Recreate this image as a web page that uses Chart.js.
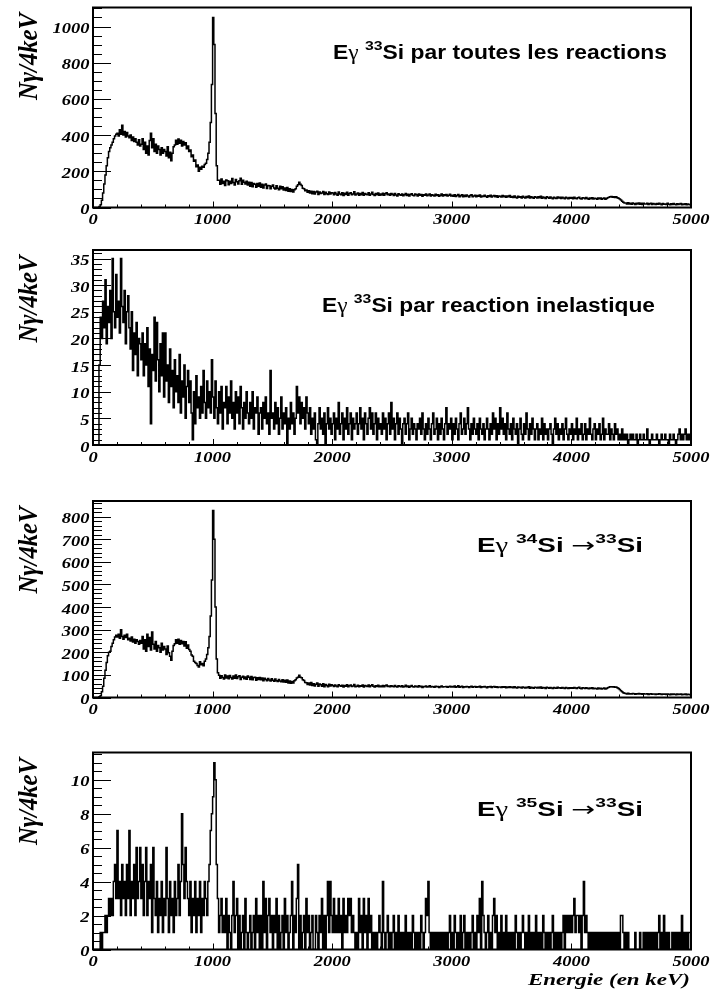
<!DOCTYPE html>
<html><head><meta charset="utf-8">
<script src="https://cdn.jsdelivr.net/npm/chart.js@4.4.1/dist/chart.umd.min.js"></script>
<style>
html,body{margin:0;padding:0;background:#fff;width:711px;height:992px;overflow:hidden}
canvas{position:absolute;left:0}
</style>
</head><body>
<canvas id="c1" width="711" height="245" style="top:0px"></canvas>
<canvas id="c2" width="711" height="250" style="top:245px"></canvas>
<canvas id="c3" width="711" height="250" style="top:495px"></canvas>
<canvas id="c4" width="711" height="247" style="top:745px"></canvas>
<script>
// ---- data : counts per 10 keV bin, 0..5000 keV ----
const BIN_KEV = 10;
const xTickLabels = [0, 1000, 2000, 3000, 4000, 5000];
const yTicksToutes = [0, 200, 400, 600, 800, 1000];
const yTicksInel = [0, 5, 10, 15, 20, 25, 30, 35];
const yTicksSi34 = [0, 100, 200, 300, 400, 500, 600, 700, 800];
const yTicksSi35 = [0, 2, 4, 6, 8, 10];

const toutesReactions = [
0,0,0,0,0,5,15,40,80,130,180,230,275,310,330,345,360,380,395,405,
410,395,430,405,455,400,420,390,415,395,
385,400,370,390,365,380,360,345,375,340,
350,380,320,360,300,340,290,370,410,330,
380,310,350,300,340,320,290,330,300,320,
310,285,335,275,305,258,300,335,345,372,
350,378,355,372,340,365,345,358,325,340,
310,318,280,290,255,262,225,235,200,222,
212,228,222,238,245,265,300,360,470,680,
1050,900,520,230,150,
150,128,158,132,145,122,152,148,126,145,132,160,138,125,155,142,130,148,162,128,150,140,130,145,124,
140,118,138,115,132,128,112,132,118,135,112,128,108,125,130,105,122,120,104,118,124,108,102,120,106,98,118,104,114,96,
108,94,110,90,104,88,100,86,98,104,
118,126,140,128,122,106,104,92,96,84,
92,80,90,76,88,74,85,90,72,86,78,80,88,72,84,76,72,86,74,82,
80,70,83,74,68,85,75,71,82,66,79,72,84,68,77,81,70,75,87,69,74,80,68,77,71,83,67,78,73,70,81,68,75,84,72,66,77,70,80,68,75,69,79,67,76,82,70,74,68,78,
73,66,77,69,64,76,71,67,75,65,70,78,66,73,63,72,76,68,65,74,70,64,75,68,72,62,71,67,74,65,69,75,64,71,67,63,73,66,71,62,68,74,64,70,66,72,63,68,73,64,
68,62,71,61,66,72,60,65,70,59,67,61,69,63,58,66,70,60,64,67,59,66,62,69,58,64,61,67,62,57,65,61,68,58,63,66,59,65,57,64,62,58,66,60,64,56,63,59,66,57,
61,55,64,57,53,62,56,60,52,62,57,53,61,55,63,52,59,55,51,60,57,52,60,54,62,51,58,54,50,59,55,51,58,53,49,57,53,50,58,52,56,50,57,52,48,56,52,49,55,51,
55,49,56,51,48,54,57,50,47,54,52,48,55,50,46,53,49,54,47,51,50,46,53,48,52,45,50,53,46,50,
54,57,59,61,56,60,55,59,54,51,47,41,35,29,25,
25,20,26,19,23,18,25,21,17,24,20,25,18,23,17,24,20,19,23,16,21,24,17,22,19,16,22,18,23,19,15,22,18,20,16,23,18,15,21,17,22,18,15,21,17,19,22,15,19,17,21,15,19,17,15
];

const reactionInelastique = [
0,0,0,0,0,15,24,20,27,22,
31,19,26,23,29,20,35,25,22,32,
24,27,21,35,26,23,29,19,25,28,
22,18,25,14,21,17,23,13,20,19,
16,21,13,19,15,22,11,18,4,17,
14,24,12,23,16,10,19,13,21,9,
21,12,15,8,18,11,14,7,16,10,
13,8,17,6,12,9,15,5,11,14,
8,12,6,1,10,4,13,7,9,5,
11,6,14,8,5,12,7,10,6,16,
9,5,12,7,4,10,6,11,3,8,
7,11,4,9,6,12,5,8,3,10,
6,9,4,11,7,3,8,5,10,6,
4,8,5,10,3,7,6,9,2,6,
7,3,8,5,9,4,6,2,14,5,
6,3,8,4,7,2,5,9,3,6,
4,7,0,5,3,8,4,6,2,5,
11,6,9,4,8,5,7,3,9,6,
4,7,2,5,3,6,1,0,4,7,
3,5,2,6,0,4,7,3,5,2,
4,6,1,5,3,8,2,4,6,1,
5,3,7,2,4,6,1,5,3,4,
6,2,4,7,3,5,1,6,4,2,
5,7,3,6,2,4,6,1,5,3,
4,2,6,3,5,1,4,6,2,8,
3,5,1,4,6,2,5,3,0,4,
5,2,4,6,1,3,5,2,4,3,
1,4,3,5,2,6,3,1,4,2,
5,3,1,4,6,2,3,5,1,4,
2,5,3,1,4,7,2,4,3,5,
1,4,2,5,3,1,4,6,2,3,
5,2,4,7,3,1,4,2,5,3,
2,4,1,5,3,2,4,1,3,5,
3,1,4,2,6,3,5,1,4,2,
7,3,5,2,4,1,6,3,2,4,
1,5,3,2,4,0,3,5,2,1,
4,2,6,3,1,4,2,5,3,1,
3,4,1,3,2,5,1,4,2,3,
1,3,4,2,0,3,5,2,4,1,
3,2,4,1,3,5,2,1,3,2,
4,1,3,2,5,1,3,2,4,1,
2,4,1,3,2,5,2,1,3,4,
1,3,2,4,1,2,5,1,3,2,
2,4,1,3,2,1,4,2,3,1,
2,1,3,1,2,1,2,0,1,2,
1,2,1,1,2,0,1,2,1,1,
2,1,1,3,1,0,1,2,1,1,
1,2,1,0,1,2,1,1,2,1,
1,0,2,1,1,2,1,0,1,2,
3,1,2,1,2,3,1,2,1,2
];

const si34VersSi33 = [
0,0,0,0,0,3,8,25,50,85,120,155,185,200,205,225,240,255,268,275,
268,280,262,300,270,258,275,265,280,255,
262,250,268,245,258,240,255,248,235,252,
240,270,215,255,205,280,225,265,210,290,
235,215,248,205,230,220,200,240,210,225,
215,190,228,198,182,165,205,230,238,255,
240,258,236,252,238,248,228,246,218,232,
212,205,188,182,160,155,150,142,135,158,
145,150,140,160,170,190,220,270,360,520,
827,700,400,170,110,
98,85,96,88,82,99,86,95,83,97,89,82,95,85,100,84,92,96,80,90,94,83,91,81,95,
90,80,93,78,88,90,76,87,80,89,78,86,74,85,80,74,84,77,73,83,76,72,82,74,71,80,73,70,79,69,
76,67,77,64,73,63,71,64,74,79,
86,90,98,90,87,78,75,66,65,58,
64,55,66,53,61,51,59,64,50,60,56,50,61,48,57,53,48,59,51,56,
53,49,55,51,47,56,52,50,54,46,53,50,56,48,52,55,49,51,58,48,50,54,47,52,50,55,46,53,51,49,55,47,52,56,50,46,52,49,54,47,51,48,53,47,52,55,49,51,48,52,
50,47,53,49,46,52,50,48,52,46,49,54,47,51,45,50,53,48,46,51,49,46,52,48,50,44,49,47,51,46,48,52,46,49,47,45,50,47,49,44,48,51,46,48,47,49,45,48,50,46,
49,46,51,45,48,52,45,47,50,44,48,46,49,47,44,48,50,45,47,49,45,48,46,50,44,47,46,49,46,43,48,46,49,44,47,49,45,47,44,46,46,44,48,45,47,43,46,44,48,44,
46,43,47,44,42,46,44,45,42,46,44,42,45,43,47,41,45,43,41,45,44,42,45,42,46,41,44,43,40,45,43,41,44,42,40,44,42,41,45,42,43,41,44,42,40,44,42,40,43,41,
43,41,44,42,40,43,45,41,39,43,42,40,43,41,39,42,40,43,39,41,40,38,42,39,41,38,40,42,38,40,
43,45,47,48,46,47,45,46,43,40,35,30,25,21,19,
18,16,19,15,17,16,18,17,14,17,16,18,15,17,14,17,16,15,17,13,16,17,14,16,15,13,16,14,17,15,13,16,14,15,13,16,14,12,15,13,16,14,12,15,13,14,16,12,14,13,15,12,14,13,12
];

const si35VersSi33 = [
0,0,0,0,0, 0,1,0,1,1, 2,1,2,3,2, 3,2,4,5,3, 7,3,4,2,5, 3,4,2,5,3, 7,2,4,3,5, 2,6,3,4,6, 3,5,2,4,6, 2,4,3,5,1,
6,3,2,4,1, 3,2,4,1,3, 2,6,3,1,4, 2,3,1,4,2, 3,5,2,4,8, 5,3,6,4,3, 2,4,1,3,2, 4,1,3,2,4, 1,3,2,4,3, 2,4,5,7,8,
9,11,10,5,3, 1,2,3,1,2, 1,3,0,2,1, 0,2,4,1,2, 3,0,2,0,1, 2,0,3,1,0, 1,2,0,1,2, 0,3,1,2,0, 2,0,4,1,3, 0,2,3,1,2,
0,2,1,3,0, 2,0,1,2,0, 3,1,2,0,1, 2,4,0,2,1, 3,5,0,2,0, 1,2,0,3,1, 2,0,1,2,0, 0,2,1,0,2, 1,3,0,2,0, 2,4,1,4,2,
1,3,1,2,1, 3,1,2,0,3, 1,2,1,3,2, 3,1,2,1,0, 1,0,3,1,2, 0,3,1,2,0, 3,1,2,0,1, 0,1,0,1,2, 1,0,4,1,0, 1,2,0,1,0,
1,2,0,1,0, 2,0,1,0,1, 0,2,0,1,0, 1,0,2,1,0, 1,0,1,0,2, 1,0,1,3,2, 4,1,0,1,0, 1,0,1,0,1, 0,1,0,1,0, 1,0,1,2,0,
1,0,2,1,0, 1,0,2,0,1, 2,0,1,0,1, 0,1,2,0,1, 0,2,1,3,0, 4,2,1,0,1, 2,0,1,0,2, 3,1,2,0,1, 0,2,0,1,0, 2,0,1,0,1,
0,1,0,2,1, 0,1,0,1,2, 1,0,1,0,2, 0,1,0,1,0, 2,0,1,0,1, 0,2,1,0,1, 0,1,0,1,2, 0,1,0,1,0, 1,0,1,2,0, 2,1,2,1,2,
1,2,3,1,2, 2,1,2,0,2, 4,1,2,1,0, 1,0,1,0,1, 0,1,0,1,0, 1,0,1,0,1, 0,1,0,1,0, 1,0,1,0,1, 0,2,2,1,0, 1,0,1,0,0,
0,0,0,1,0, 0,0,1,0,0, 1,0,1,0,1, 0,1,0,1,0, 1,0,1,2,0, 1,0,2,0,1, 0,1,0,0,1, 0,1,0,1,0, 1,0,2,0,1, 0,1,0,1,1
];

// ---- helpers ----
function toPoints(vals){
  const pts = vals.map((v,i)=>({x:i*BIN_KEV, y:v}));
  pts.push({x:vals.length*BIN_KEV, y:vals[vals.length-1]});
  return pts;
}
function fitText(ctx, txt, x0, x1, base, font){
  ctx.save(); ctx.font = font;
  const w = ctx.measureText(txt).width;
  ctx.translate(x0, base); ctx.scale((x1-x0)/w, 1);
  ctx.textAlign='left'; ctx.textBaseline='alphabetic';
  ctx.fillText(txt, 0, 0); ctx.restore();
}
function drawRich(ctx, parts, x0, x1, base){
  let w = 0;
  for (const p of parts){ ctx.font = p.f; p.w = ctx.measureText(p.t).width; w += p.w; }
  ctx.save(); ctx.translate(x0, base); ctx.scale((x1-x0)/w, 1);
  ctx.textAlign='left'; ctx.textBaseline='alphabetic';
  let x = 0;
  for (const p of parts){ ctx.font = p.f; ctx.fillText(p.t, x, -(p.rise||0)); x += p.w; }
  ctx.restore();
}
const B = 'bold 19.5px "Liberation Sans", "DejaVu Sans", sans-serif';
const G = '20px "Liberation Serif", "DejaVu Serif", serif';
const A = '20px "DejaVu Sans", sans-serif';
const S = 'bold 13.5px "Liberation Sans", "DejaVu Sans", sans-serif';
const TICKFONT = 'italic bold 14px "Liberation Serif", "DejaVu Serif", serif';
const TSX = 1.32;

const rootAxes = {
  id: 'rootAxes',
  afterDraw(chart, args, o){
    const ctx = chart.ctx, a = chart.chartArea, xs = chart.scales.x, ys = chart.scales.y;
    const off = o.canvasTop;
    ctx.save();
    ctx.strokeStyle = '#000'; ctx.fillStyle = '#000';
    // inward ticks
    ctx.lineWidth = 1;
    ctx.beginPath();
    const nMinor = Math.floor(ys.max / o.yMinor + 1e-6);
    for (let k = 0; k <= nMinor; k++){
      const v = k * o.yMinor;
      const y = Math.round(ys.getPixelForValue(v)) + 0.5;
      const major = Math.abs(v / o.yMajor - Math.round(v / o.yMajor)) < 1e-6;
      ctx.moveTo(a.left, y); ctx.lineTo(a.left + (major ? 18 : 9), y);
    }
    for (let v = 0; v <= 5000; v += 200){
      const x = Math.round(xs.getPixelForValue(v)) + 0.5;
      const major = v % 1000 === 0;
      ctx.moveTo(x, a.bottom); ctx.lineTo(x, a.bottom - (major ? 6 : 3));
    }
    ctx.stroke();
    // frame
    ctx.lineWidth = 2;
    ctx.strokeRect(a.left, a.top, a.right - a.left, a.bottom - a.top);
    // tick labels
    ctx.font = TICKFONT; ctx.textBaseline = 'alphabetic';
    for (const v of o.yTicks){
      const y = ys.getPixelForValue(v) + 6.5;
      ctx.save(); ctx.translate(a.left - 3.5, y); ctx.scale(TSX, 1);
      ctx.textAlign = 'right'; ctx.fillText(String(v), 0, 0); ctx.restore();
    }
    for (const v of xTickLabels){
      const x = xs.getPixelForValue(v);
      ctx.save(); ctx.translate(x, a.bottom + 16.5); ctx.scale(TSX, 1);
      ctx.textAlign = 'center'; ctx.fillText(String(v), 0, 0); ctx.restore();
    }
    // y title (rotated)
    ctx.save();
    ctx.font = 'italic bold 20px "Liberation Serif", "DejaVu Serif", serif';
    const T = 'Nγ/4keV';
    const tw = ctx.measureText(T).width;
    ctx.translate(37, a.top + 92.5); ctx.rotate(-Math.PI/2); ctx.scale(87/tw, 1.32);
    ctx.textAlign = 'left'; ctx.fillText(T, 0, 0);
    ctx.restore();
    // annotation
    drawRich(ctx, o.annot.parts, o.annot.x0, o.annot.x1, o.annot.base - off);
    if (o.xTitle){
      fitText(ctx, 'Energie (en keV)', 528, 690, 985 - off, 'italic bold 17.5px "Liberation Serif", "DejaVu Serif", serif');
    }
    ctx.restore();
  }
};

function makeChart(id, values, ymax, pad, canvasTop, cfg){
  new Chart(document.getElementById(id), {
    type: 'line',
    data: { datasets: [{ data: toPoints(values), borderColor: '#000', borderWidth: 1.5,
      pointRadius: 0, stepped: 'before', fill: false, tension: 0 }] },
    options: {
      responsive: false, animation: false, events: [],
      layout: { padding: { left: 93, right: 20, top: pad[0], bottom: pad[1] } },
      plugins: { legend: { display: false }, tooltip: { enabled: false },
        rootAxes: Object.assign({ canvasTop: canvasTop }, cfg) },
      scales: {
        x: { type: 'linear', min: 0, max: 5000, display: false },
        y: { type: 'linear', min: 0, max: ymax, display: false }
      }
    },
    plugins: [rootAxes]
  });
}

makeChart('c1', toutesReactions, 1105, [7.5, 37.5], 0, {
  yTicks: yTicksToutes, yMajor: 200, yMinor: 50,
  annot: { x0: 333, x1: 667, base: 58.5, parts: [
    {t:'E', f:B}, {t:'γ', f:G}, {t:' ', f:B}, {t:'33', f:S, rise:8.5}, {t:'Si par toutes les reactions', f:B}] }
});
makeChart('c2', reactionInelastique, 36.6, [5, 50], 245, {
  yTicks: yTicksInel, yMajor: 5, yMinor: 1,
  annot: { x0: 322, x1: 655, base: 311.5, parts: [
    {t:'E', f:B}, {t:'γ', f:G}, {t:' ', f:B}, {t:'33', f:S, rise:8.5}, {t:'Si par reaction inelastique', f:B}] }
});
makeChart('c3', si34VersSi33, 869, [6, 47.5], 495, {
  yTicks: yTicksSi34, yMajor: 100, yMinor: 20,
  annot: { x0: 477, x1: 643, base: 551.5, parts: [
    {t:'E', f:B}, {t:'γ', f:G}, {t:' ', f:B}, {t:'34', f:S, rise:9}, {t:'Si ', f:B}, {t:'→', f:A}, {t:'33', f:S, rise:9}, {t:'Si', f:B}] }
});
makeChart('c4', si35VersSi33, 11.6, [7.5, 42.5], 745, {
  yTicks: yTicksSi35, yMajor: 2, yMinor: 0.5, xTitle: true,
  annot: { x0: 477, x1: 643, base: 816, parts: [
    {t:'E', f:B}, {t:'γ', f:G}, {t:' ', f:B}, {t:'35', f:S, rise:9}, {t:'Si ', f:B}, {t:'→', f:A}, {t:'33', f:S, rise:9}, {t:'Si', f:B}] }
});
</script>
</body></html>
